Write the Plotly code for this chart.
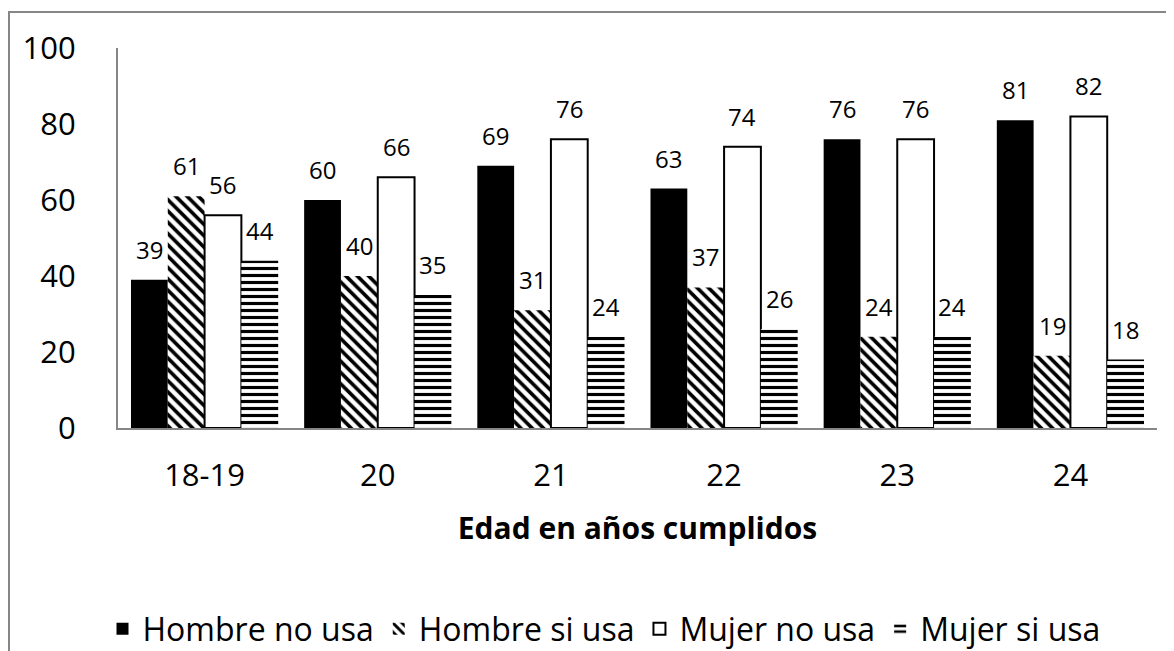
import plotly.graph_objects as go

categories = ["18-19", "20", "21", "22", "23", "24"]
hombre_no_usa = [39, 60, 69, 63, 76, 81]
hombre_si_usa = [61, 40, 31, 37, 24, 19]
mujer_no_usa = [56, 66, 76, 74, 76, 82]
mujer_si_usa = [44, 35, 24, 26, 24, 18]
series_names = ["Hombre no usa", "Hombre si usa", "Mujer no usa", "Mujer si usa"]

# page body has an 8px margin -> work in page pixels and subtract it
OFF = 8
W, H = 1174 - OFF, 651 - OFF
ML = 118 - OFF
MT = 48 - OFF
MB = H - (428 - OFF)
MR = W - (1157 - OFF)
PW = W - ML - MR
PH = H - MT - MB

def px_x(p):
    return (p - OFF - ML) / PW

def px_y(p):
    return (H - MB - (p - OFF)) / PH

FONT = "Open Sans"
BARGAP = 0.15

fig = go.Figure()
specs = [
    dict(color="black", line=dict(width=0)),
    dict(color="white", line=dict(width=0),
         pattern=dict(shape="\\", fgcolor="black", bgcolor="white", fgopacity=1, size=8, solidity=0.45)),
    dict(color="white", line=dict(width=2, color="black")),
    dict(color="white", line=dict(width=0),
         pattern=dict(shape="-", fgcolor="black", bgcolor="white", fgopacity=1, size=7, solidity=0.45)),
]
all_values = [hombre_no_usa, hombre_si_usa, mujer_no_usa, mujer_si_usa]
for name, vals, mk in zip(series_names, all_values, specs):
    fig.add_trace(go.Bar(name=name, x=categories, y=vals, marker=mk, cliponaxis=False))

# data labels above each bar (annotation x = category index on the category axis)
cat_px = PW / len(categories)
bar_px = cat_px * (1 - BARGAP) / len(all_values)
for k, vals in enumerate(all_values):
    dx = (k - (len(all_values) - 1) / 2) * bar_px
    for i, v in enumerate(vals):
        fig.add_annotation(x=i, y=v, xref="x", yref="y", text=str(v), showarrow=False,
                           xshift=dx, yshift=12, yanchor="bottom",
                           font=dict(family=FONT, size=24, color="black"))

fig.update_layout(
    template="none",
    width=W, height=H,
    margin=dict(l=ML, r=MR, t=MT, b=MB, autoexpand=False),
    paper_bgcolor="white", plot_bgcolor="white",
    barmode="group", bargap=BARGAP, bargroupgap=0,
    font=dict(family=FONT, color="black"),
    showlegend=True,
    legend=dict(orientation="h", x=px_x(604), xanchor="center", y=px_y(629), yanchor="middle",
                font=dict(family=FONT, size=32, color="black"), itemwidth=30,
                traceorder="normal", bgcolor="rgba(0,0,0,0)"),
)
fig.update_xaxes(
    type="category", categoryorder="array", categoryarray=categories,
    range=[-0.5, len(categories) - 0.5], automargin=False,
    showline=True, linecolor="#868686", linewidth=2, showgrid=False, zeroline=False,
    tickfont=dict(family=FONT, size=31, color="black"), ticks="", ticklabelstandoff=19,
    tickangle=0,
    title=dict(text="<b>Edad en años cumplidos</b>", font=dict(family=FONT, size=30, color="black"), standoff=24),
)
fig.update_yaxes(
    range=[0, 100], dtick=20, showline=True, linecolor="#868686", linewidth=2, automargin=False,
    showgrid=False, zeroline=False, ticks="",
    tickfont=dict(family=FONT, size=31, color="black"), ticklabelstandoff=34,
)
fig.add_shape(type="rect", xref="paper", yref="paper",
              x0=px_x(9), x1=px_x(1200), y0=px_y(12), y1=px_y(700),
              line=dict(color="#868686", width=2), fillcolor="rgba(0,0,0,0)", layer="below")

fig.write_html("out.html")
